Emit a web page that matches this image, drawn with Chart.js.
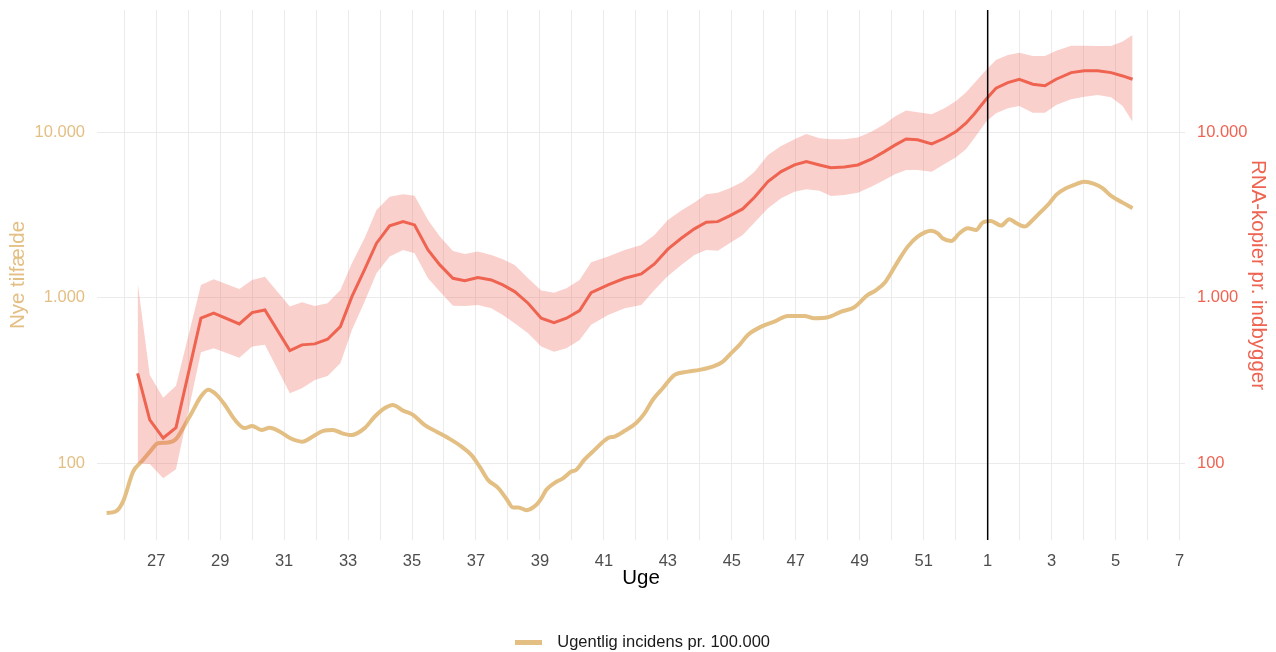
<!DOCTYPE html>
<html lang="da">
<head>
<meta charset="utf-8">
<title>Spildevand og incidens</title>
<script src="https://cdn.jsdelivr.net/npm/chart.js@4.4.1/dist/chart.umd.min.js"></script>
<style>
  html, body { margin: 0; padding: 0; background: #fff; }
  #wrap { width: 1276px; height: 652px; }
</style>
</head>
<body>
<div id="wrap"><canvas id="chart"></canvas></div>
<script>
// Uger tælles fortløbende: 53 = uge 1, 55 = uge 3 osv.
const incUger = [
  25.45, 25.73, 25.97, 26.28, 26.54, 26.8, 27.06, 27.32, 27.62, 27.84,
  28.1, 28.4, 28.63, 28.89, 29.15, 29.46, 29.77, 30.0, 30.29, 30.55,
  30.87, 31.18, 31.56, 31.9, 32.22, 32.53, 32.8, 33.1, 33.52, 33.83,
  34.14, 34.4, 34.72, 35.03, 35.4, 35.77, 36.13, 36.55, 36.86, 37.12,
  37.38, 37.69, 37.95, 38.16, 38.32, 38.58, 38.89, 39.04, 39.2, 39.46,
  39.72, 39.98, 40.13, 40.39, 40.7, 41.13, 41.33, 41.65, 42.01, 42.27,
  42.53, 42.84, 43.21, 43.63, 43.99, 44.46, 44.72, 44.98, 45.24, 45.5,
  45.92, 46.33, 46.75, 47.27, 47.58, 48.0, 48.42, 48.83, 49.25, 49.5,
  49.8, 50.19, 50.5, 50.81, 51.23, 51.44, 51.59, 51.86, 52.12, 52.38,
  52.64, 52.84, 53.1, 53.42, 53.68, 53.89, 54.15, 54.41, 54.67, 54.93,
  55.14, 55.45, 55.71, 56.02, 56.33, 56.59, 56.86, 57.22, 57.53
];
const incVaerdi = [
  50, 51, 59, 89, 102, 117, 132, 133, 140, 163,
  200, 253, 278, 259, 225, 183, 163, 168, 159, 164,
  155, 142, 135, 145, 157, 159, 152, 148, 163, 191,
  215, 225, 208, 196, 170, 155, 142, 126, 112, 95,
  79, 71, 61, 54, 54, 52, 56, 61, 69, 76,
  81, 89, 91, 105, 120, 142, 145, 157, 175, 200,
  242, 284, 342, 358, 367, 388, 412, 463, 520, 597,
  670, 719, 778, 778, 754, 764, 826, 878, 1042, 1110,
  1250, 1658, 2043, 2349, 2553, 2461, 2297, 2212, 2461, 2640,
  2577, 2855, 2923, 2738, 2992, 2838, 2700, 2964, 3327, 3741,
  4200, 4609, 4826, 5053, 4895, 4609, 4140, 3772, 3488
];

const rnaUger = [
  26.42, 26.8, 27.22, 27.62, 28.4, 28.8, 29.6, 30.0, 30.4, 31.18,
  31.56, 31.96, 32.36, 32.76, 33.12, 33.52, 33.89, 34.3, 34.72, 35.08,
  35.5, 35.87, 36.28, 36.65, 37.06, 37.48, 37.84, 38.21, 38.63, 39.04,
  39.44, 39.83, 40.24, 40.6, 41.13, 41.65, 42.17, 42.58, 43.0, 43.42,
  43.83, 44.2, 44.56, 44.93, 45.34, 45.71, 46.13, 46.54, 46.96, 47.33,
  47.74, 48.1, 48.52, 48.94, 49.36, 49.77, 50.1, 50.45, 50.81, 51.25,
  51.65, 52.01, 52.32, 52.58, 52.95, 53.26, 53.63, 53.99, 54.41, 54.79,
  55.14, 55.61, 56.02, 56.44, 56.86, 57.22, 57.53
];
const rnaVaerdi = [
  350, 183, 142, 164, 754, 808, 696, 815, 846, 480,
  520, 527, 562, 670, 1018, 1490, 2143, 2727, 2894, 2764,
  1951, 1584, 1315, 1272, 1327, 1285, 1198, 1092, 929, 754,
  709, 754, 838, 1076, 1198, 1315, 1397, 1606, 1971, 2297,
  2616, 2871, 2894, 3134, 3454, 4064, 5053, 5808, 6377, 6677,
  6377, 6141, 6196, 6377, 6902, 7674, 8400, 9160, 9050, 8543,
  9247, 10140, 11400, 12980, 15920, 18560, 20070, 21040, 19630, 19230,
  21040, 23070, 23710, 23710, 23070, 22030, 21040
];
const rnaNedre = [
  100, 99, 81, 92, 469, 496, 435, 508, 520, 265,
  284, 319, 337, 403, 640, 950, 1410, 1778, 1951, 1864,
  1315, 1092, 898, 894, 907, 866, 789, 703, 612, 508,
  473, 496, 557, 687, 789, 866, 907, 1117, 1358, 1584,
  1820, 1951, 1930, 2143, 2405, 2855, 3488, 4010, 4396, 4546,
  4450, 4140, 4200, 4335, 4713, 5175, 5600, 5945, 5945, 5808,
  6467, 7100, 7936, 9247, 11650, 13100, 14050, 14500, 13210, 13210,
  14710, 15920, 16510, 16910, 16380, 14500, 11650
];
const rnaOevre = [
  1238, 342, 249, 294, 1198, 1298, 1134, 1285, 1345, 886,
  942, 894, 929, 1117, 1621, 2300, 3408, 4100, 4240, 4157,
  2964, 2349, 1925, 1846, 1906, 1820, 1714, 1584, 1315, 1107,
  1076, 1145, 1285, 1644, 1778, 1951, 2092, 2405, 2964, 3375,
  3772, 4240, 4335, 4609, 5053, 5808, 7328, 8310, 9120, 9820,
  9247, 9120, 9120, 9330, 10140, 11240, 12500, 13600, 13290, 12920,
  14050, 15550, 17460, 19900, 23950, 27540, 29510, 30480, 29100, 29100,
  31330, 33580, 33580, 33400, 33400, 35550, 39000
];

const ugeTicks = [27, 29, 31, 33, 35, 37, 39, 41, 43, 45, 47, 49, 51, 53, 55, 57, 59];
const ugeEtiketter = ['27', '29', '31', '33', '35', '37', '39', '41', '43', '45', '47', '49', '51', '1', '3', '5', '7'];
const yTicks = [100, 1000, 10000];
const aarsskifte = 53;

const tan = '#E4BF84';
const roed = '#EF6351';
const skrift = 'Liberation Sans, Arial, sans-serif';

function punkter(uger, vaerdier) {
  return uger.map((u, i) => ({ x: u, y: vaerdier[i] }));
}

function tusind(v) {
  return String(v).replace(/\B(?=(\d{3})+(?!\d))/g, '.');
}

// Lille streg til legenden, med luft til teksten
const noegle = document.createElement('canvas');
noegle.width = 34;
noegle.height = 5;
const nctx = noegle.getContext('2d');
nctx.fillStyle = tan;
nctx.fillRect(0, 0, 27, 5);

// Lodret streg ved årsskiftet
const aarsskiftePlugin = {
  id: 'aarsskifte',
  afterDatasetsDraw(chart) {
    const { ctx, chartArea, scales } = chart;
    const x = scales.x.getPixelForValue(aarsskifte);
    ctx.save();
    ctx.strokeStyle = '#000';
    ctx.lineWidth = 1.5;
    ctx.beginPath();
    ctx.moveTo(x, chartArea.top);
    ctx.lineTo(x, chartArea.bottom);
    ctx.stroke();
    ctx.restore();
  }
};

const yFaelles = {
  type: 'logarithmic',
  min: 34.3,
  max: 55200,
  border: { display: false },
  afterBuildTicks: (s) => { s.ticks = yTicks.map((v) => ({ value: v })); },
};

new Chart(document.getElementById('chart'), {
  type: 'line',
  data: {
    datasets: [
      {
        label: 'RNA-kopier pr. indbygger',
        data: punkter(rnaUger, rnaVaerdi),
        borderColor: roed,
        borderWidth: 3,
        pointRadius: 0,
        tension: 0,
        fill: false,
        yAxisID: 'y2',
      },
      {
        label: 'Øvre',
        data: punkter(rnaUger, rnaOevre),
        borderColor: 'transparent',
        borderWidth: 0,
        pointRadius: 0,
        backgroundColor: 'rgba(240, 100, 85, 0.3)',
        fill: '+1',
        yAxisID: 'y2',
      },
      {
        label: 'Nedre',
        data: punkter(rnaUger, rnaNedre),
        borderColor: 'transparent',
        borderWidth: 0,
        pointRadius: 0,
        fill: false,
        yAxisID: 'y2',
      },
      {
        label: 'Ugentlig incidens pr. 100.000',
        data: punkter(incUger, incVaerdi),
        borderColor: tan,
        backgroundColor: tan,
        borderWidth: 4,
        pointRadius: 0,
        cubicInterpolationMode: 'monotone',
        fill: false,
        yAxisID: 'y',
      },
    ],
  },
  options: {
    responsive: true,
    maintainAspectRatio: false,
    animation: false,
    layout: { padding: { top: 10, left: 9, right: 0, bottom: -9 } },
    plugins: {
      tooltip: { enabled: false },
      legend: {
        position: 'bottom',
        labels: {
          filter: (item) => item.datasetIndex === 3,
          usePointStyle: true,
          pointStyle: noegle,
          pointStyleWidth: 34,
          padding: 10,
          color: '#1a1a1a',
          font: { family: skrift, size: 16.5 },
        },
      },
    },
    scales: {
      x: {
        type: 'linear',
        min: 25.15,
        max: 59.17,
        border: { display: false },
        grid: { color: '#EBEBEB', lineWidth: 1, drawTicks: false },
        afterBuildTicks: (s) => {
          const t = [];
          for (let u = 26; u <= 59; u++) t.push({ value: u });
          s.ticks = t;
        },
        ticks: {
          autoSkip: false,
          maxRotation: 0,
          padding: 12,
          color: '#4D4D4D',
          font: { family: skrift, size: 16.5 },
          callback: (v) => {
            const i = ugeTicks.indexOf(v);
            return i >= 0 ? ugeEtiketter[i] : '';
          },
        },
        title: {
          display: true,
          text: 'Uge',
          color: '#000',
          font: { family: skrift, size: 20.5 },
          padding: { top: 0, bottom: 34 },
        },
        afterFit: (s) => { s.height = 84.5; },
      },
      y: {
        ...yFaelles,
        position: 'left',
        grid: { color: '#EBEBEB', lineWidth: 1, drawTicks: false },
        ticks: {
          padding: 12,
          color: tan,
          font: { family: skrift, size: 16.5 },
          callback: (v) => tusind(v),
        },
        title: {
          display: true,
          text: 'Nye tilfælde',
          color: tan,
          font: { family: skrift, size: 20.5 },
          padding: { top: -3, bottom: 0 },
        },
        afterFit: (s) => {
          s.width = 88;
          s.paddingTop = 0;
          s.paddingBottom = 0;
        },
      },
      y2: {
        ...yFaelles,
        position: 'right',
        grid: { display: false, drawTicks: false },
        ticks: {
          padding: 12,
          color: roed,
          font: { family: skrift, size: 16.5 },
          callback: (v) => tusind(v),
        },
        title: {
          display: true,
          text: 'RNA-kopier pr. indbygger',
          color: roed,
          font: { family: skrift, size: 20.5 },
          padding: { top: 6, bottom: 0 },
        },
        afterFit: (s) => {
          s.width = 91;
          s.paddingTop = 0;
          s.paddingBottom = 0;
        },
      },
    },
  },
  plugins: [aarsskiftePlugin],
});
</script>
</body>
</html>
